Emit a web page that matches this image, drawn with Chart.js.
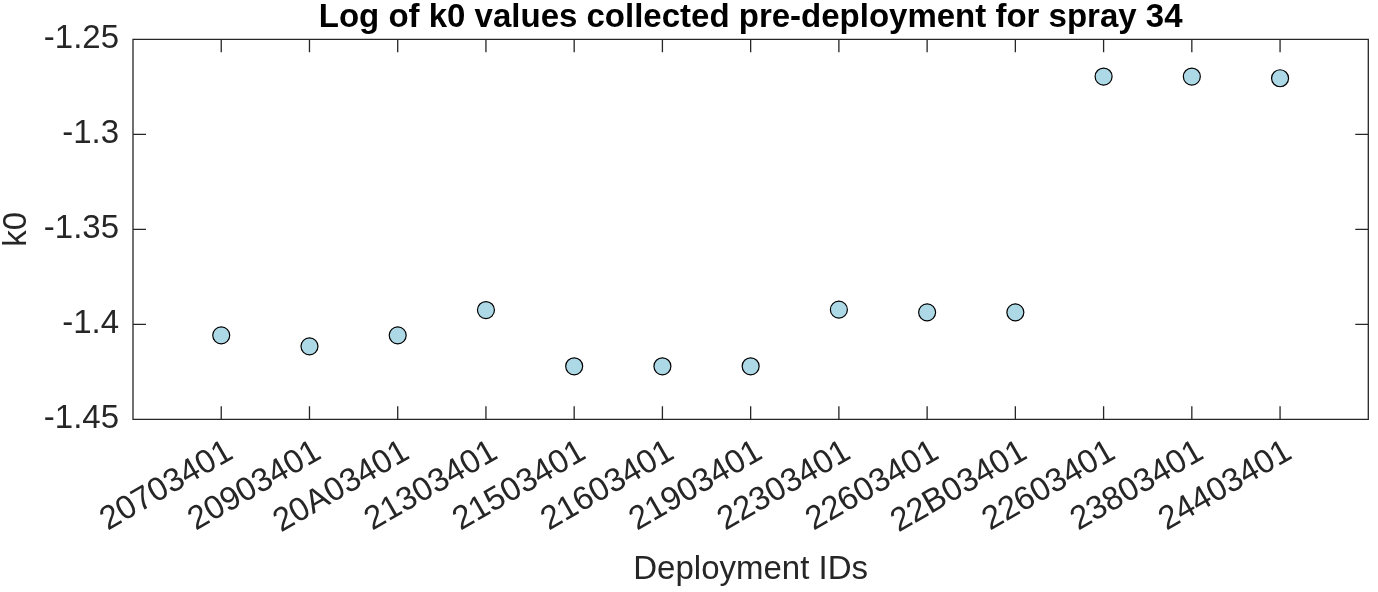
<!DOCTYPE html>
<html>
<head>
<meta charset="utf-8">
<script src="https://cdn.jsdelivr.net/npm/chart.js@4.4.1/dist/chart.umd.min.js"></script>
<style>
  html, body { margin: 0; padding: 0; background: #ffffff; }
  #wrap { width: 1378px; height: 592px; }
</style>
</head>
<body>
<div id="wrap"><canvas id="k0Chart" width="1378" height="592"></canvas></div>
<script>
// deployment ids along the x axis
const deploymentIds = ['20703401', '20903401', '20A03401', '21303401', '21503401', '21603401', '21903401',
                       '22303401', '22603401', '22B03401', '22603401', '23803401', '24403401'];
// log of k0 per deployment
const k0Log = [-1.4058, -1.4116, -1.4058, -1.3925, -1.4221, -1.4221, -1.4221,
               -1.3923, -1.3937, -1.3937, -1.2696, -1.2696, -1.2705];
// y tick labels
const yTicks = [-1.45, -1.4, -1.35, -1.3, -1.25];

const axisColor = '#262626';
const fontFamily = "'Liberation Sans', Arial, Helvetica, sans-serif";

// box round the plot with inward ticks on all four sides
const matlabBox = {
    id: 'matlabBox',
    afterDatasetsDraw(chart) {
        const { ctx, chartArea: a, scales } = chart;
        const tl = 13;
        ctx.save();
        ctx.strokeStyle = axisColor;
        ctx.lineWidth = 1.3;
        ctx.beginPath();
        scales.x.ticks.forEach(t => {
            const px = scales.x.getPixelForValue(t.value);
            ctx.moveTo(px, a.bottom); ctx.lineTo(px, a.bottom - tl);
            ctx.moveTo(px, a.top); ctx.lineTo(px, a.top + tl);
        });
        scales.y.ticks.forEach(t => {
            const py = scales.y.getPixelForValue(t.value);
            ctx.moveTo(a.left, py); ctx.lineTo(a.left + tl, py);
            ctx.moveTo(a.right, py); ctx.lineTo(a.right - tl, py);
        });
        ctx.rect(a.left, a.top, a.right - a.left, a.bottom - a.top);
        ctx.stroke();
        ctx.restore();
    }
};

const ctx = document.getElementById('k0Chart').getContext('2d');
const k0Chart = new Chart(ctx, {
    type: 'scatter',
    data: {
        datasets: [{
            label: 'k0',
            data: k0Log.map((v, i) => ({ x: i + 1, y: v })),
            pointRadius: 8.5,
            pointHoverRadius: 8.5,
            pointBackgroundColor: '#ADD8E6',
            pointBorderColor: '#000000',
            pointBorderWidth: 1.2
        }]
    },
    options: {
        responsive: false,
        animation: false,
        devicePixelRatio: 1,
        layout: { padding: { left: 0, right: 5.5, top: 0, bottom: 0 } },
        plugins: {
            legend: { display: false },
            tooltip: { enabled: false },
            title: {
                display: true,
                fullSize: false,
                text: 'Log of k0 values collected pre-deployment for spray 34',
                color: '#000000',
                font: { family: fontFamily, size: 33, weight: 'bold', lineHeight: 1.1 },
                padding: { top: 0, bottom: 3 }
            }
        },
        scales: {
            x: {
                type: 'linear',
                min: 0,
                max: 14,
                grid: { display: false, drawTicks: false },
                border: { display: false },
                afterBuildTicks: (scale) => {
                    scale.ticks = deploymentIds.map((_, i) => ({ value: i + 1 }));
                },
                afterFit: (scale) => { scale.height = 172.7; },
                ticks: {
                    color: axisColor,
                    font: { family: fontFamily, size: 33 },
                    minRotation: 30,
                    maxRotation: 30,
                    padding: 13,
                    labelOffset: 9,
                    autoSkip: false,
                    callback: (value) => deploymentIds[value - 1]
                },
                title: {
                    display: true,
                    text: 'Deployment IDs',
                    color: axisColor,
                    font: { family: fontFamily, size: 33, lineHeight: 1.1 },
                    padding: { top: 0, bottom: 4 }
                }
            },
            y: {
                min: -1.45,
                max: -1.25,
                grid: { display: false, drawTicks: false },
                border: { display: false },
                afterBuildTicks: (scale) => {
                    scale.ticks = yTicks.map(v => ({ value: v }));
                },
                afterFit: (scale) => { scale.width = 133; },
                ticks: {
                    color: axisColor,
                    font: { family: fontFamily, size: 33 },
                    padding: 14,
                    callback: (value) => String(value)
                },
                title: {
                    display: true,
                    text: 'k0',
                    color: axisColor,
                    font: { family: fontFamily, size: 33, lineHeight: 1 },
                    padding: { top: 0, bottom: 0 }
                }
            }
        }
    },
    plugins: [matlabBox]
});
</script>
</body>
</html>
